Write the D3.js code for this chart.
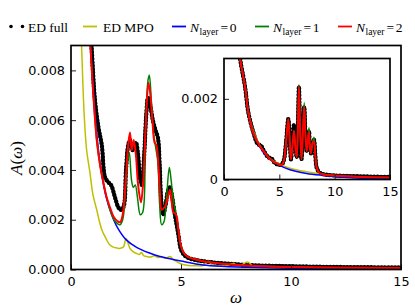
<!DOCTYPE html>
<html>
<head>
<meta charset="utf-8">
<script src="https://cdn.jsdelivr.net/npm/d3@7"></script>
<style>
	body { margin: 0; background: #fff; }
	svg { display: block; }
	.tick text { font-family: "DejaVu Sans", sans-serif; font-size: 12.8px; fill: #000; }
	.tick line { stroke: #222; stroke-width: 1; }
	.legend text { font-family: "Liberation Serif", serif; font-size: 13.5px; }
</style>
</head>
<body>
<svg id="chart" width="415" height="307"></svg>
<script>
/////////////////////////////////////////////////////////
/////////////////-----DATA-----//////////////////////////
/////////////////////////////////////////////////////////
// [omega, A(omega)]

let xTicks = [0, 5, 10, 15];
let yTicks = [0, 0.002, 0.004, 0.006, 0.008];
let insetYTicks = [0, 0.002];

let seriesNames = ["ED full", "ED MPO", "0", "1", "2"];

// main panel
let edFull = [[0.8,0.0105],[0.93,0.009],[1.09,0.0068],[1.25,0.0057],[1.4,0.005],[1.55,0.0037],[1.7,0.0035],[1.82,0.0034],[2.0,0.0029],[2.15,0.0025],[2.25,0.0024],[2.38,0.0025],[2.5,0.004],[2.6,0.005],[2.68,0.0052],[2.8,0.0048],[2.95,0.0051],[3.05,0.0046],[3.13,0.0037],[3.22,0.0034],[3.32,0.0045],[3.42,0.0062],[3.5,0.0069],[3.6,0.0066],[3.72,0.006],[3.84,0.0056],[3.95,0.0053],[4.03,0.0042],[4.1,0.0028],[4.19,0.0022],[4.3,0.0026],[4.42,0.0032],[4.5,0.0033],[4.6,0.0029],[4.72,0.0022],[4.8,0.0018],[4.88,0.0014],[5.0,0.0008],[5.15,0.00058],[5.35,0.00046],[5.8,0.00036],[6.3,0.0003],[7.0,0.00024],[8.0,0.00018],[9.0,0.00015],[10,0.00013],[12,0.0001],[15,0.00008]];
let edMpo = [[0.42,0.0105],[0.48,0.009],[0.6,0.0062],[0.71,0.0048],[0.86,0.0039],[1.0,0.003],[1.17,0.0024],[1.3,0.0019],[1.4,0.0016],[1.5,0.0014],[1.62,0.0012],[1.75,0.001],[1.92,0.0009],[2.1,0.00086],[2.23,0.00085],[2.38,0.0009],[2.5,0.00125],[2.58,0.0011],[2.68,0.00085],[2.85,0.0007],[2.98,0.00065],[3.1,0.0006],[3.2,0.00068],[3.3,0.00056],[3.45,0.00052],[3.6,0.0005],[3.8,0.00055],[3.95,0.00048],[4.1,0.0005],[4.3,0.00045],[4.5,0.00052],[4.65,0.0004],[4.8,0.00032],[4.95,0.00024],[5.26,0.00017],[5.7,0.00015],[6.0,0.00016],[6.24,0.00033],[6.4,0.0002],[6.6,0.00015],[7.0,0.00014],[7.4,0.00024],[7.6,0.00012],[8.03,0.0003],[8.3,0.00012],[8.8,0.0001],[9.5,0.0001],[10.5,0.00005],[12,0.00004],[15,0.00003]];
let layer0 = [[0.8,0.0105],[0.9,0.009],[1.0,0.0075],[1.2,0.0052],[1.4,0.0038],[1.6,0.0029],[1.85,0.0022],[2.1,0.0017],[2.5,0.0012],[3.0,0.00088],[3.6,0.00065],[4.0,0.00053],[4.5,0.00043],[5.0,0.00034],[6.0,0.00018],[7.0,0.00012],[8.0,0.00009],[10,0.00005],[12,0.00004],[15,0.00003]];
let layer1 = [[0.78,0.0105],[0.88,0.009],[1.0,0.0072],[1.17,0.0052],[1.32,0.0042],[1.47,0.0035],[1.62,0.0029],[1.77,0.0024],[1.95,0.002],[2.1,0.00185],[2.23,0.0018],[2.35,0.002],[2.48,0.0032],[2.58,0.0044],[2.65,0.0047],[2.75,0.0036],[2.83,0.0033],[2.92,0.0034],[3.02,0.0029],[3.15,0.0022],[3.26,0.0023],[3.38,0.0055],[3.5,0.0076],[3.56,0.0078],[3.65,0.0068],[3.75,0.0055],[3.85,0.0049],[3.95,0.0043],[4.03,0.0026],[4.12,0.0018],[4.22,0.0019],[4.35,0.003],[4.47,0.0041],[4.55,0.0036],[4.65,0.0028],[4.78,0.0022],[4.88,0.0016],[4.98,0.001],[5.1,0.0007],[5.3,0.00052],[5.6,0.00042],[6.0,0.00033],[7.0,0.00022],[8.0,0.00016],[10,0.0001],[15,0.00006]];
let layer2 = [[0.78,0.0105],[0.88,0.009],[1.0,0.0072],[1.17,0.0052],[1.32,0.0042],[1.47,0.0035],[1.62,0.0029],[1.77,0.0025],[1.95,0.0021],[2.1,0.00195],[2.23,0.0019],[2.35,0.0022],[2.48,0.0035],[2.6,0.005],[2.68,0.0055],[2.76,0.0048],[2.85,0.0052],[2.95,0.0046],[3.05,0.0034],[3.18,0.0027],[3.28,0.0035],[3.4,0.0058],[3.52,0.0075],[3.6,0.0071],[3.7,0.006],[3.8,0.0051],[3.88,0.005],[3.95,0.0045],[4.05,0.003],[4.12,0.0024],[4.25,0.0025],[4.35,0.0027],[4.5,0.0032],[4.58,0.0027],[4.65,0.0023],[4.78,0.0022],[4.88,0.0016],[4.98,0.001],[5.1,0.0007],[5.3,0.00052],[5.6,0.00042],[6.0,0.00033],[7.0,0.00022],[8.0,0.00016],[9.0,0.00012],[10,0.0001],[12,0.00008],[15,0.00006]];

// inset panel
let insetEdFull = [[1.3,0.0034],[1.45,0.003],[1.9,0.0023],[2.2,0.00166],[2.65,0.00117],[3.05,0.00088],[3.34,0.00084],[3.6,0.00071],[4.0,0.00055],[4.3,0.00052],[4.6,0.00041],[4.9,0.00037],[5.2,0.00037],[5.4,0.00047],[5.6,0.0009],[5.81,0.0015],[5.95,0.0009],[6.05,0.0005],[6.18,0.0009],[6.32,0.00135],[6.45,0.0009],[6.57,0.00055],[6.67,0.0012],[6.77,0.0023],[6.87,0.0013],[7.0,0.0005],[7.12,0.0011],[7.25,0.0018],[7.36,0.0011],[7.47,0.0007],[7.58,0.001],[7.68,0.0012],[7.76,0.0008],[7.85,0.00065],[8.0,0.0009],[8.13,0.00098],[8.25,0.0006],[8.37,0.0003],[8.6,0.00018],[9.0,0.00013],[10,0.0001],[12,0.00008],[15,0.00006]];
let insetEdMpo = [[1.3,0.0034],[1.45,0.003],[1.9,0.00232],[2.2,0.00168],[2.65,0.0012],[3.25,0.00084],[4.16,0.00052],[4.9,0.0004],[5.96,0.00028],[7.47,0.00019],[8.97,0.00013],[10.5,0.00008],[12,0.00005],[15,0.00004]];
let insetLayer0 = [[1.3,0.0034],[1.45,0.003],[1.9,0.0023],[2.2,0.00165],[2.65,0.00115],[3.25,0.0008],[4.16,0.0005],[4.9,0.00037],[5.96,0.00024],[7.47,0.00015],[8.97,0.0001],[10.5,0.00006],[12,0.00004],[15,0.00003]];
let insetLayer1 = [[1.3,0.0034],[1.45,0.003],[1.9,0.0023],[2.2,0.00165],[2.65,0.00115],[3.25,0.00082],[3.6,0.0007],[4.16,0.0005],[4.9,0.00038],[5.2,0.00036],[5.4,0.00045],[5.6,0.0009],[5.81,0.0015],[5.95,0.0009],[6.05,0.0005],[6.18,0.0008],[6.32,0.0012],[6.45,0.0008],[6.57,0.00055],[6.67,0.0012],[6.77,0.00235],[6.87,0.0013],[7.0,0.0005],[7.12,0.0011],[7.25,0.0019],[7.36,0.0011],[7.47,0.0007],[7.58,0.001],[7.68,0.00128],[7.76,0.0008],[7.85,0.00065],[8.0,0.0009],[8.13,0.00105],[8.25,0.0006],[8.37,0.0003],[8.6,0.00017],[9.0,0.00012],[10,0.0001],[12,0.00007],[15,0.00005]];
let insetLayer2 = [[1.3,0.0034],[1.45,0.003],[1.9,0.0023],[2.2,0.00165],[2.65,0.00115],[3.25,0.00082],[3.6,0.0007],[4.16,0.0005],[4.9,0.00038],[5.2,0.00036],[5.4,0.00045],[5.6,0.0009],[5.81,0.0015],[5.95,0.0009],[6.05,0.0005],[6.18,0.0008],[6.32,0.0012],[6.45,0.0008],[6.57,0.00055],[6.67,0.0012],[6.77,0.0023],[6.87,0.0013],[7.0,0.0005],[7.12,0.0011],[7.25,0.0018],[7.36,0.0011],[7.47,0.0007],[7.58,0.001],[7.68,0.00118],[7.76,0.0008],[7.85,0.00065],[8.0,0.0009],[8.13,0.00095],[8.25,0.0006],[8.37,0.0003],[8.6,0.00017],[9.0,0.00012],[10,0.0001],[12,0.00007],[15,0.00005]];


/////////////////////////////////////////////////////////
///////////////-----CHART-----///////////////////////////
/////////////////////////////////////////////////////////
let chart = {
	main: { left: 71, right: 401, top: 45.5, bottom: 269.5, ymax: 0.009 },
	inset: { left: 224, right: 390, top: 58.5, bottom: 179.5, ymax: 0.003 },

	styles: [
		{ color: "#000000", width: 3.2 },
		{ color: "#bfbf00", width: 1.5 },
		{ color: "#0000ff", width: 1.5 },
		{ color: "#008000", width: 1.5 },
		{ color: "#ff0000", width: 2 }
	],

	panel: function(svg, box, id, series, yTickVals, yFormat) {
		let x = d3.scaleLinear().domain([0, 15]).range([box.left, box.right]);
		let y = d3.scaleLinear().domain([0, box.ymax]).range([box.bottom, box.top]);

		let g = svg.append("g");
		g.append("rect")
		.attr("x", box.left).attr("y", box.top)
		.attr("width", box.right - box.left).attr("height", box.bottom - box.top)
		.attr("fill", "#fff");

		g.append("clipPath").attr("id", id)
		.append("rect")
		.attr("x", box.left).attr("y", box.top)
		.attr("width", box.right - box.left).attr("height", box.bottom - box.top);

		let line = d3.line()
		.x(function(d) { return x(d[0]); })
		.y(function(d) { return y(d[1]); })
		.curve(d3.curveCatmullRom.alpha(0.5));

		let lines = g.append("g").attr("clip-path", "url(#" + id + ")");
		series.forEach(function(s, i) {
			let st = chart.styles[i];
			lines.append("path")
			.attr("d", line(s))
			.attr("fill", "none")
			.attr("stroke", st.color)
			.attr("stroke-width", st.width)
			.attr("stroke-linejoin", "round");
			if (i == 0) {
				// ED full drawn with dense dot markers
				lines.append("path")
				.attr("d", line(s))
				.attr("fill", "none")
				.attr("stroke", "#000")
				.attr("stroke-width", 4.4)
				.attr("stroke-linecap", "round")
				.attr("stroke-dasharray", "0 3.4");
			}
		});

		g.append("g")
		.attr("transform", "translate(0," + box.bottom + ")")
		.call(d3.axisBottom(x).tickValues(xTicks).tickSize(-5).tickPadding(7))
		.call(function(a) { a.select(".domain").remove(); });

		g.append("g")
		.attr("transform", "translate(" + box.left + ",0)")
		.call(d3.axisLeft(y).tickValues(yTickVals).tickSize(-5).tickPadding(6).tickFormat(yFormat))
		.call(function(a) { a.select(".domain").remove(); });

		g.append("rect")
		.attr("x", box.left).attr("y", box.top)
		.attr("width", box.right - box.left).attr("height", box.bottom - box.top)
		.attr("fill", "none")
		.attr("stroke", "#000")
		.attr("stroke-width", 1.7);
	},

	legend: function(svg) {
		let items = [
			{ x: 8, tx: 28 },
			{ x: 83, tx: 103 },
			{ x: 172, tx: 190 },
			{ x: 255, tx: 273 },
			{ x: 338, tx: 356 }
		];
		let g = svg.append("g").attr("class", "legend");
		items.forEach(function(it, i) {
			if (i == 0) {
				g.selectAll(".ld").data([11, 22.5]).enter().append("circle")
				.attr("class", "ld")
				.attr("cx", function(d) { return d; }).attr("cy", 26.5).attr("r", 1.8).attr("fill", "#000");
			} else {
				g.append("line")
				.attr("x1", it.x).attr("x2", it.x + 14)
				.attr("y1", 26.5).attr("y2", 26.5)
				.attr("stroke", chart.styles[i].color).attr("stroke-width", 1.8);
			}
			let t = g.append("text").attr("x", it.tx).attr("y", 31.5);
			if (i < 2) {
				t.text(seriesNames[i]);
			} else {
				t.append("tspan").attr("font-style", "italic").text("N");
				t.append("tspan").attr("font-size", "9.5px").attr("dy", 3).attr("dx", 0.5).text("layer");
				t.append("tspan").attr("dy", -3).attr("dx", 2).text("=");
				t.append("tspan").attr("dx", 1.5).text(seriesNames[i]);
			}
		});
	},

	labels: function(svg) {
		let yl = svg.append("text")
		.attr("transform", "translate(22,158) rotate(-90)")
		.attr("text-anchor", "middle")
		.attr("font-family", "Liberation Serif, serif")
		.attr("font-size", "17px");
		yl.append("tspan").attr("font-style", "italic").text("A");
		yl.append("tspan").text("(");
		yl.append("tspan").attr("font-style", "italic").text("ω");
		yl.append("tspan").text(")");

		svg.append("text")
		.attr("x", 236).attr("y", 303)
		.attr("text-anchor", "middle")
		.attr("font-family", "Liberation Serif, serif")
		.attr("font-style", "italic")
		.attr("font-size", "17px")
		.text("ω");
	},

	draw: function() {
		let svg = d3.select("#chart");
		chart.legend(svg);
		chart.panel(svg, chart.main, "clipMain", [edFull, edMpo, layer0, layer1, layer2], yTicks, d3.format(".3f"));
		chart.panel(svg, chart.inset, "clipInset", [insetEdFull, insetEdMpo, insetLayer0, insetLayer1, insetLayer2], insetYTicks,
			function(d) { return d === 0 ? "0" : d3.format(".3f")(d); });
		chart.labels(svg);
	}
}

chart.draw();
</script>
</body>
</html>
